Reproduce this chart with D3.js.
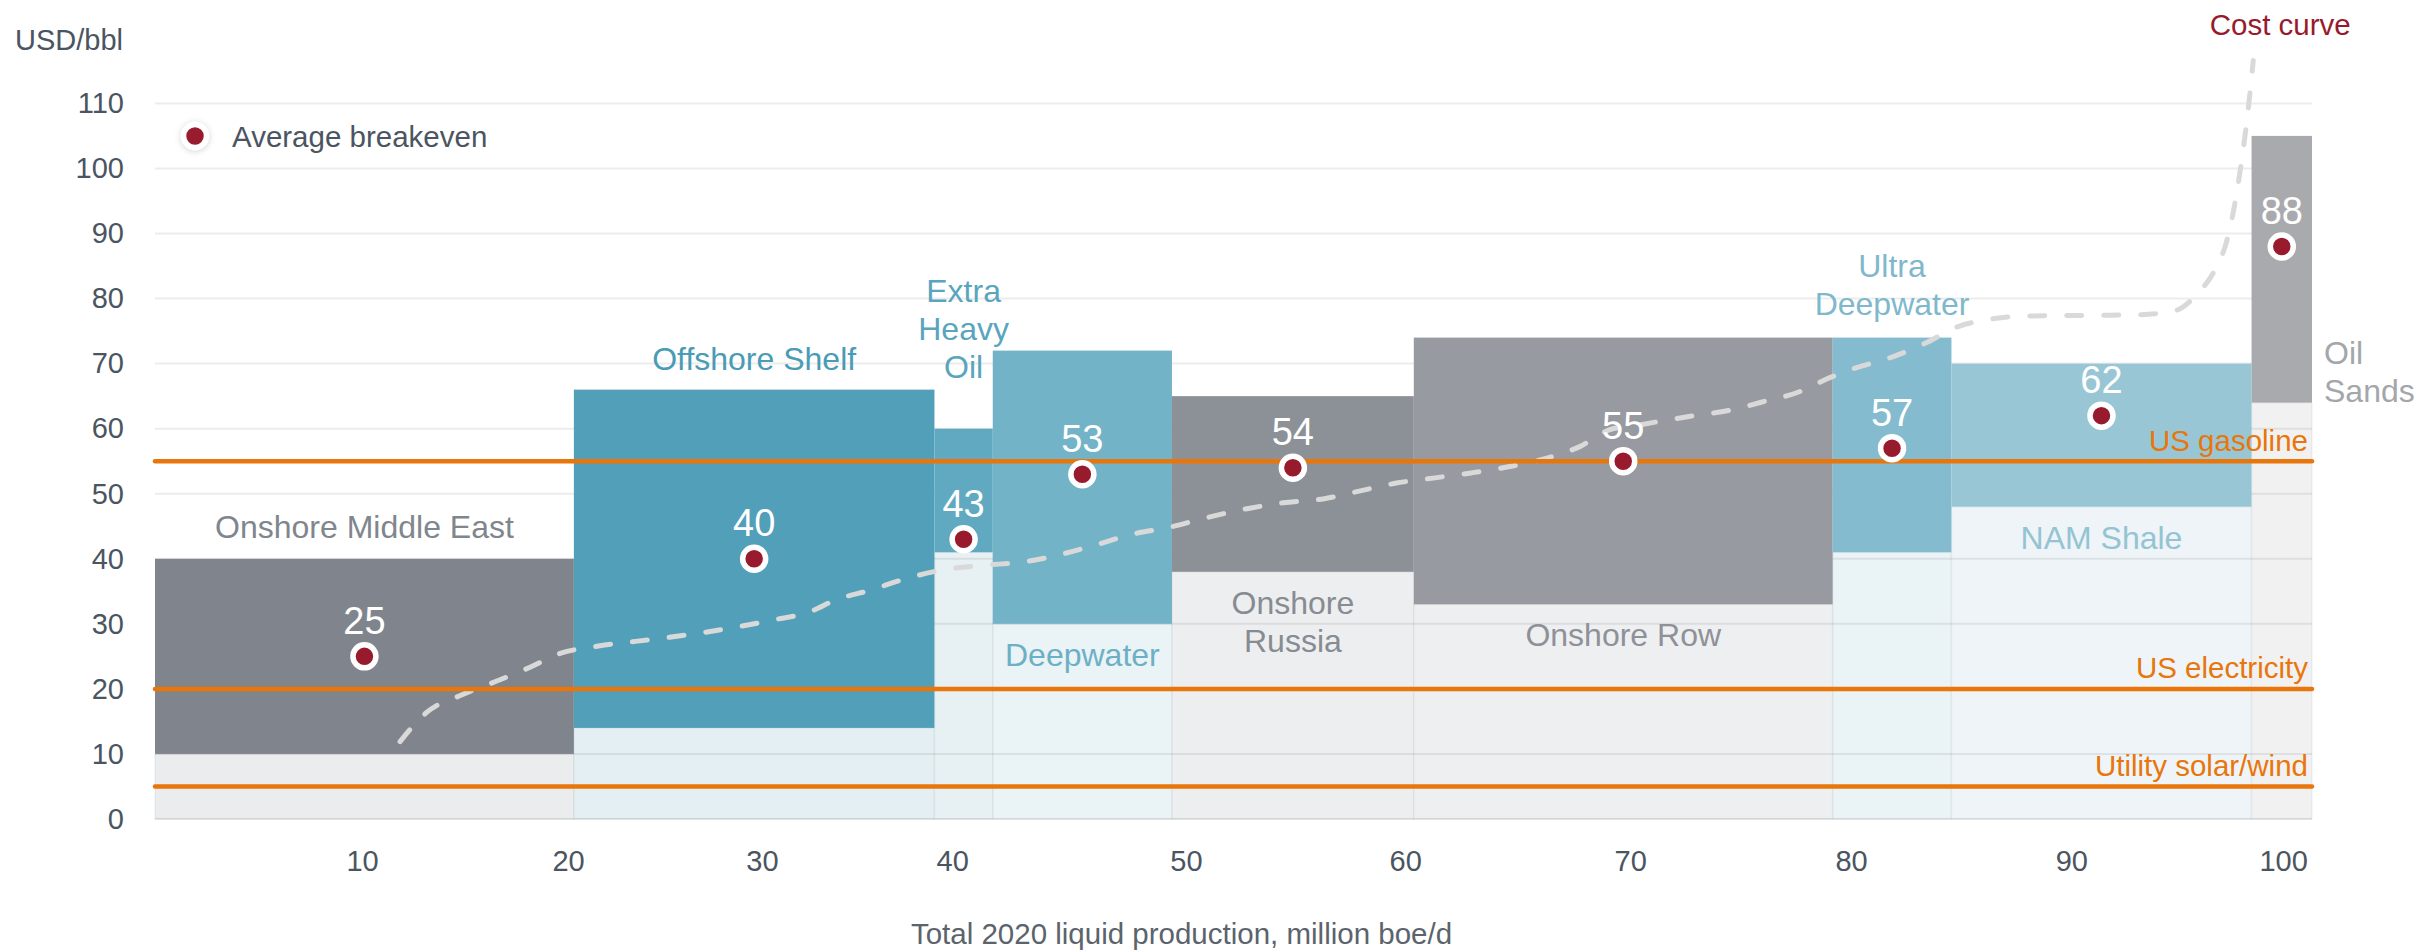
<!DOCTYPE html>
<html>
<head>
<meta charset="utf-8">
<script src="https://cdn.jsdelivr.net/npm/d3@7"></script>
<style>
  html, body { margin: 0; padding: 0; background: #ffffff; }
  svg { display: block; font-family: "Liberation Sans", Arial, Helvetica, sans-serif; }
</style>
</head>
<body>
<svg id="chart" width="2418" height="951"></svg>
<script>
// ---- Data -------------------------------------------------------------
// Supply segments, in merit order (2020 liquids output, million boe/d)
const categories = ["Onshore Middle East", "Offshore Shelf", "Extra\nHeavy\nOil", "Deepwater",
                    "Onshore\nRussia", "Onshore Row", "Ultra\nDeepwater", "NAM Shale", "Oil\nSands"];
const production = [19.4, 16.7, 2.7, 8.3, 11.2, 19.4, 5.5, 13.9, 2.8];
// Breakeven range of each segment (USD/bbl)
const costLow  = [10, 14, 41, 30, 38, 33, 41, 48, 64];
const costHigh = [40, 66, 60, 72, 65, 74, 74, 70, 105];
// Volume-weighted average breakeven (USD/bbl)
const breakeven = [25, 40, 43, 53, 54, 55, 57, 62, 88];

// Cumulative cost curve: cumulative output (million boe/d) vs cost (USD/bbl)
const costCurveX = [11.35, 12.55, 14.22, 15.98, 17.42, 18.8, 20.38, 23.53, 26.59, 28.62, 30.29, 31.54,
                    33.16, 34.83, 36.5, 38.35, 40.2, 41.87, 43.54, 45.16, 47.06, 48.68, 50.58, 52.25,
                    54.1, 55.77, 57.43, 59.19, 60.95, 62.62, 64.29, 65.96, 67.35, 68.78, 70.91, 73.04,
                    74.43, 76.1, 77.54, 78.74, 80.36, 82.03, 83.51, 84.95, 86.43, 88.98, 91.71, 93.52,
                    94.63, 95.37, 95.93, 96.3, 96.62, 96.9, 97.18];
const costCurveY = [11.9, 16.3, 19.1, 21.4, 23.4, 25.5, 26.5, 27.8, 29.3, 30.6, 31.8, 33.7,
                    35.2, 37.0, 38.3, 39.0, 39.5, 40.6, 42.1, 43.7, 44.9, 46.3, 47.7, 48.6,
                    49.2, 50.4, 51.6, 52.4, 53.2, 54.1, 55.3, 57.2, 59.8, 60.6, 61.8, 62.9,
                    64.1, 65.6, 67.8, 69.3, 70.9, 73.2, 75.7, 76.8, 77.3, 77.4, 77.5, 78.1,
                    80.9, 84.2, 88.6, 94.1, 100.7, 107.8, 116.6];

// Competing energy price benchmarks (USD/boe)
const benchmarks = ["US gasoline", "US electricity", "Utility solar/wind"];
const benchmarkValues = [55, 20, 5];

// Axis ticks
const yTicks = [0, 10, 20, 30, 40, 50, 60, 70, 80, 90, 100, 110];
const xTickLabels = [10, 20, 30, 40, 50, 60, 70, 80, 90, 100];
const xTickAt = [9.59, 19.13, 28.11, 36.92, 47.75, 57.9, 68.32, 78.55, 88.75, 98.56];

// ---- Styling ----------------------------------------------------------
const barColor   = ["#7b8088", "#4a9bb5", "#5aa5be", "#6db0c5", "#878b93", "#93969d", "#7fb8cc", "#94c4d3", "#a5a7ab"];
const bandColor  = ["#ebecee", "#e3eff2", "#e7f0f3", "#eaf3f6", "#edeef0", "#eeeff1", "#eaf3f6", "#eef4f7", "#f1f1f2"];
const labelColor = ["#80868d", "#4a9bb5", "#5aa5be", "#6db0c5", "#878b92", "#8e9197", "#7fb8cc", "#94c4d3", "#a3a6ab"];
// where each segment name sits relative to its bar
const labelSide  = ["above", "above", "above", "below", "below", "below", "above", "below", "right"];
const labelLift  = [21, 20, 51, 0, 0, 0, 23, 0, 0];

const ORANGE = "#e8760b";
const RED = "#981b2d";
const AXIS_TEXT = "#4a5561";

const plot = { left: 155, right: 2312, top: 103.4, bottom: 819 };
const svg = d3.select("#chart");

const defs = svg.append("defs");
const shadow = defs.append("filter").attr("id", "soft").attr("x", "-60%").attr("y", "-60%")
  .attr("width", "220%").attr("height", "220%");
shadow.append("feDropShadow").attr("dx", 0).attr("dy", 1).attr("stdDeviation", 3)
  .attr("flood-color", "#000").attr("flood-opacity", 0.18);

const totalOutput = d3.sum(production);
const x = d3.scaleLinear().domain([0, totalOutput]).range([plot.left, plot.right]);
const y = d3.scaleLinear().domain([0, 110]).range([plot.bottom, plot.top]);

const ends = d3.cumsum(production);
const segs = categories.map((c, i) => ({
  i, name: c,
  x0: ends[i] - production[i], x1: ends[i],
  lo: costLow[i], hi: costHigh[i], avg: breakeven[i]
}));

// light columns below each bar
svg.append("g").selectAll("rect").data(segs).join("rect")
  .attr("x", d => x(d.x0)).attr("width", d => x(d.x1) - x(d.x0))
  .attr("y", d => y(d.lo)).attr("height", d => y(0) - y(d.lo))
  .attr("fill", d => bandColor[d.i])
  .attr("stroke", "rgba(90,110,120,0.08)").attr("stroke-width", 1.5);

// horizontal grid
svg.append("g").selectAll("line").data(yTicks).join("line")
  .attr("x1", plot.left).attr("x2", plot.right)
  .attr("y1", d => y(d)).attr("y2", d => y(d))
  .attr("stroke", "rgba(0,0,0,0.075)").attr("stroke-width", 2);

// breakeven range bars
svg.append("g").selectAll("rect").data(segs).join("rect")
  .attr("x", d => x(d.x0)).attr("width", d => x(d.x1) - x(d.x0))
  .attr("y", d => y(d.hi)).attr("height", d => y(d.lo) - y(d.hi))
  .attr("fill", d => barColor[d.i]).attr("fill-opacity", 0.96);

// cost curve
const curvePts = costCurveX.map((v, i) => [v, costCurveY[i]]);
svg.append("path").datum(curvePts)
  .attr("d", d3.line().x(d => x(d[0])).y(d => y(d[1])).curve(d3.curveMonotoneX))
  .attr("fill", "none").attr("stroke", "#d9d9d9").attr("stroke-width", 5)
  .attr("stroke-dasharray", "15,22").attr("stroke-linecap", "round");

const last = curvePts[curvePts.length - 1];
svg.append("text").attr("x", x(last[0]) + 27).attr("y", y(last[1]) - 25)
  .attr("text-anchor", "middle").attr("font-size", 29.5).attr("fill", RED).text("Cost curve");

// benchmark price lines
const bm = svg.append("g");
bm.selectAll("line").data(benchmarkValues).join("line")
  .attr("x1", plot.left).attr("x2", plot.right)
  .attr("y1", d => y(d)).attr("y2", d => y(d))
  .attr("stroke", ORANGE).attr("stroke-width", 4.5).attr("stroke-linecap", "round");
bm.selectAll("text").data(benchmarks).join("text")
  .attr("x", plot.right - 4).attr("y", (d, i) => y(benchmarkValues[i]) - 10.5)
  .attr("text-anchor", "end").attr("font-size", 29.5).attr("fill", ORANGE).text(d => d);

// segment names
const nameG = svg.append("g").attr("font-size", 32);
segs.forEach(d => {
  const lines = d.name.split("\n");
  const lh = 38;
  const cx = (x(d.x0) + x(d.x1)) / 2;
  const t = nameG.append("text").attr("fill", labelColor[d.i]);
  let firstBaseline, anchorX = cx, anchor = "middle";
  if (labelSide[d.i] === "above") {
    firstBaseline = y(d.hi) - labelLift[d.i] - (lines.length - 1) * lh;
  } else if (labelSide[d.i] === "below") {
    firstBaseline = y(d.lo) + 42;
  } else {
    anchorX = x(d.x1) + 12; anchor = "start";
    firstBaseline = y(d.lo) - 1 - (lines.length - 1) * lh;
  }
  t.attr("text-anchor", anchor);
  lines.forEach((ln, k) => {
    t.append("tspan").attr("x", anchorX).attr("y", firstBaseline + k * lh).text(ln);
  });
});

// average breakeven markers and values
const dots = svg.append("g");
dots.selectAll("circle").data(segs).join("circle")
  .attr("cx", d => (x(d.x0) + x(d.x1)) / 2).attr("cy", d => y(d.avg)).attr("r", 11.5)
  .attr("fill", RED).attr("stroke", "#ffffff").attr("stroke-width", 5.5);
dots.selectAll("text").data(segs).join("text")
  .attr("x", d => (x(d.x0) + x(d.x1)) / 2).attr("y", d => y(d.avg) - 22.5)
  .attr("text-anchor", "middle").attr("font-size", 38).attr("fill", "#ffffff")
  .text(d => d.avg);

// axes
const yAxis = svg.append("g").attr("transform", `translate(${plot.left},0)`)
  .call(d3.axisLeft(y).tickValues(yTicks).tickSize(0).tickPadding(31));
yAxis.select(".domain").remove();
yAxis.selectAll("text").attr("font-size", 29).attr("fill", AXIS_TEXT)
  .attr("font-family", "Liberation Sans, Arial, sans-serif");

const xAxis = svg.append("g").attr("transform", `translate(0,${plot.bottom})`)
  .call(d3.axisBottom(x).tickValues(xTickAt).tickFormat((d, i) => xTickLabels[i])
    .tickSize(0).tickPadding(31));
xAxis.select(".domain").remove();
xAxis.selectAll("text").attr("font-size", 29).attr("fill", AXIS_TEXT)
  .attr("font-family", "Liberation Sans, Arial, sans-serif");

svg.append("text").attr("x", 15).attr("y", 50).attr("font-size", 29).attr("fill", AXIS_TEXT)
  .text("USD/bbl");
svg.append("text").attr("x", (plot.left + plot.right) / 2 - 52).attr("y", 944)
  .attr("text-anchor", "middle").attr("font-size", 29.5).attr("fill", "#5b636b")
  .text("Total 2020 liquid production, million boe/d");

// legend
const lg = svg.append("g").attr("transform", "translate(195,136)");
lg.append("circle").attr("r", 11.5).attr("fill", RED).attr("stroke", "#fff").attr("stroke-width", 5.5)
  .attr("filter", "url(#soft)");
lg.append("text").attr("x", 37).attr("y", 10.5).attr("font-size", 29.5).attr("fill", AXIS_TEXT)
  .text("Average breakeven");
</script>
</body>
</html>
